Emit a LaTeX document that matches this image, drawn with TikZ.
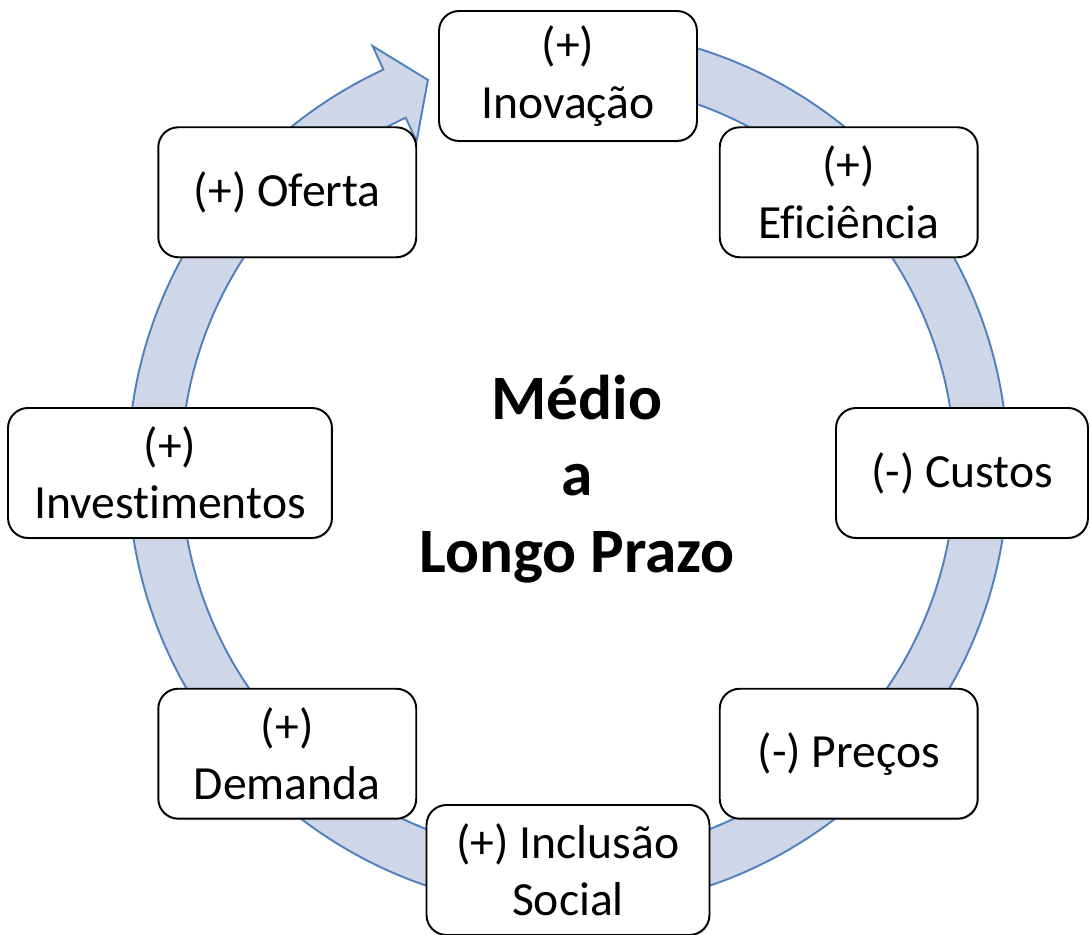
\documentclass[tikz,border=0pt]{standalone}
\usepackage{fontspec}
\setmainfont{Carlito}[Ligatures=CommonOff]
\usepackage{xcolor}
\usetikzlibrary{shadows, calc}

\definecolor{ringfill}{RGB}{206,214,231}
\definecolor{ringline}{RGB}{79,129,189}

\begin{document}
\begin{tikzpicture}[
  x=0.02cm, y=0.02cm,
  stagebox/.style={draw=black, line width=1.1pt, fill=white, rounded corners=0.4cm, minimum width=5.16cm, minimum height=2.6cm, align=center, font=\fontsize{27.1}{32.6}\selectfont, drop shadow={shadow xshift=0.5pt, shadow yshift=-0.9pt, opacity=0.22}},
  ringarrow/.style={fill=ringfill, draw=ringline, line width=1.1pt, line join=miter},
  titletext/.style={align=center, font=\fontsize{36}{43.6}\selectfont\bfseries},
]
\useasboundingbox (-568,-462) rectangle (522,473);

% Anel com seta (centro levemente acima)
\coordinate (C) at (0,4);
\draw[ringarrow] ($(C)+(95:440)$) arc[start angle=95, end angle=-245.2, radius=440]
  -- ($(C)+(114.8:466)$) -- ($(C)+(109.8:413.5)$) -- ($(C)+(114.8:361)$)
  -- ($(C)+(114.8:387)$) arc[start angle=-245.2, end angle=95, radius=387] -- cycle;

% Etapas do ciclo
\node[stagebox] (inov) at (90:397) {(+)\\Inovação};
\node[stagebox] (efic) at (45:397) {(+)\\Eficiência};
\node[stagebox, minimum width=5.04cm] (cust) at (0:394) {(-) Custos};
\node[stagebox] (prec) at (-45:397) {(-) Preços};
\node[stagebox, minimum width=5.66cm] (incl) at (-90:397) {(+) Inclusão\\Social};
\node[stagebox] (dema) at (-135:397) {(+)\\Demanda};
\node[stagebox, minimum width=6.48cm] (inve) at (180:398) {(+)\\Investimentos};
\node[stagebox] (ofer) at (135:397) {(+) Oferta};

% Texto central
\node[titletext] (prazo) at (9,-6) {Médio\\a\\Longo Prazo};

\end{tikzpicture}
\end{document}
